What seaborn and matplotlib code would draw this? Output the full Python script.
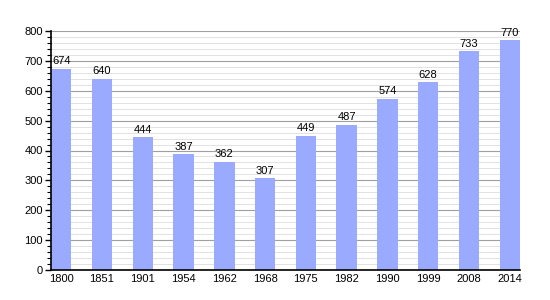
import matplotlib
matplotlib.use("Agg")
import matplotlib.pyplot as plt
import seaborn as sns
import pandas as pd
from matplotlib.ticker import MultipleLocator

years = ["1800", "1851", "1901", "1954", "1962", "1968", "1975", "1982", "1990", "1999", "2008", "2014"]
population = [674, 640, 444, 387, 362, 307, 449, 487, 574, 628, 733, 770]

df = pd.DataFrame({"year": years, "pop": population})

sns.set_theme(style="white")
plt.rcParams['font.family'] = ['Liberation Sans', 'DejaVu Sans']

fig = plt.figure(figsize=(5.5, 3.0), dpi=100)
ax = fig.add_axes([51/550, 30/300, 469/550, 239/300])

sns.barplot(data=df, x="year", y="pop", color="#99aaff", saturation=1, width=0.5,
            linewidth=0, edgecolor="none", ax=ax, zorder=3)

ax.set_ylim(0, 800)
ax.set_xlim(-0.25, len(years) - 0.75)
ax.yaxis.set_major_locator(MultipleLocator(100))
ax.yaxis.set_minor_locator(MultipleLocator(20))
ax.grid(which="major", axis="y", color="#a0a0a0", linewidth=0.8, zorder=0)
ax.grid(which="minor", axis="y", color="#dddddd", linewidth=0.6, zorder=0)
ax.set_axisbelow(True)

for s in ["top", "right"]:
    ax.spines[s].set_visible(False)
ax.spines["left"].set_color("black")
ax.spines["bottom"].set_color("black")
ax.spines["left"].set_linewidth(1.2)
ax.spines["bottom"].set_linewidth(1.2)
ax.spines["left"].set_zorder(5)
ax.spines["bottom"].set_zorder(5)

ax.tick_params(axis="y", which="major", direction="out", length=4, width=1, labelsize=8, left=True, pad=2, color="black", labelcolor="black")
ax.tick_params(axis="y", which="minor", direction="out", length=3, width=0.8, left=True, color="black")
ax.tick_params(axis="x", length=0, labelsize=8, pad=3, labelcolor="black")
ax.set_xlabel("")
ax.set_ylabel("")

for i, v in enumerate(population):
    ax.text(i, v + 8, str(v), ha="center", va="bottom", fontsize=8, color="black", zorder=4)

fig.savefig("out.png", dpi=100)
